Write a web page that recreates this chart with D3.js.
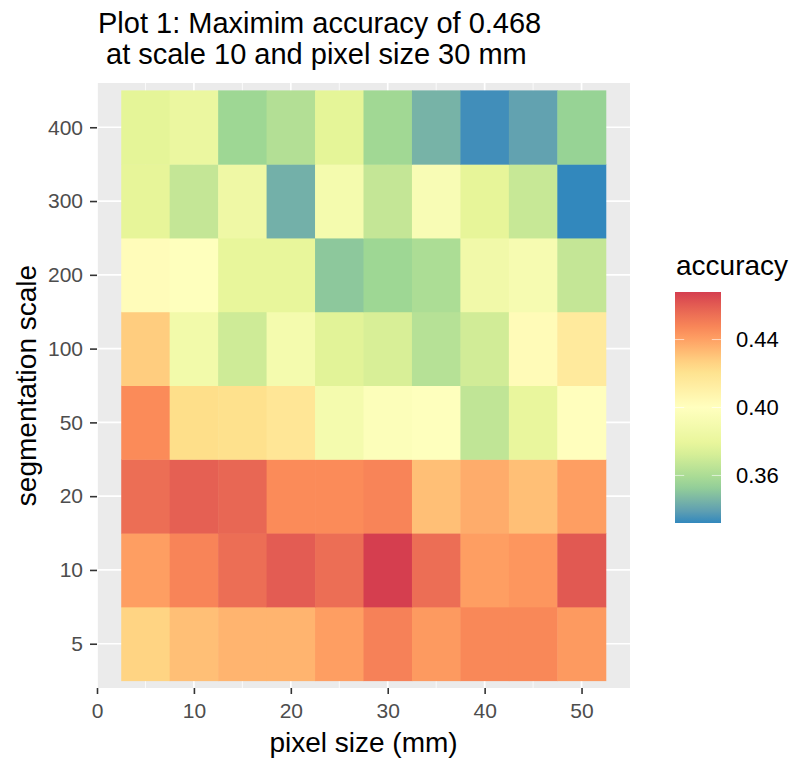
<!DOCTYPE html>
<html>
<head>
<meta charset="utf-8">
<script src="https://cdn.jsdelivr.net/npm/d3@7"></script>
<style>
  body { margin: 0; background: #fff; }
  text { font-family: "Liberation Sans", Arial, sans-serif; }
</style>
</head>
<body>
<div id="chart"></div>
<script>
// pixel size (mm) columns and segmentation scale rows
const pixelSizes = [5, 10, 15, 20, 25, 30, 35, 40, 45, 50];
const scales = ['5', '10', '20', '50', '100', '200', '300', '400'];

// accuracy per row (scale), values by pixel size
const acc5   = [0.426, 0.432, 0.435, 0.435, 0.441, 0.449, 0.442, 0.447, 0.447, 0.442];
const acc10  = [0.441, 0.448, 0.455, 0.460, 0.455, 0.468, 0.455, 0.441, 0.443, 0.461];
const acc20  = [0.455, 0.459, 0.457, 0.446, 0.446, 0.448, 0.432, 0.437, 0.432, 0.441];
const acc50  = [0.446, 0.423, 0.422, 0.418, 0.390, 0.397, 0.399, 0.366, 0.380, 0.401];
const acc100 = [0.428, 0.388, 0.370, 0.390, 0.376, 0.373, 0.363, 0.371, 0.403, 0.415];
const acc200 = [0.402, 0.399, 0.379, 0.379, 0.351, 0.356, 0.360, 0.387, 0.392, 0.367];
const acc300 = [0.378, 0.367, 0.385, 0.344, 0.390, 0.367, 0.394, 0.378, 0.368, 0.332];
const acc400 = [0.377, 0.382, 0.356, 0.362, 0.377, 0.357, 0.345, 0.334, 0.340, 0.354];

const xTicks = [0, 10, 20, 30, 40, 50];
const legendTicks = [0.36, 0.40, 0.44];

const rows = [acc5, acc10, acc20, acc50, acc100, acc200, acc300, acc400];
const cells = [];
rows.forEach((vals, i) => {
    vals.forEach((v, j) => cells.push({ scale: scales[i], px: pixelSizes[j], value: v }));
});

const width = 795, height = 764;
const margin = { top: 83, left: 97, right: 165, bottom: 76 };
const panelW = width - margin.left - margin.right;   // 533
const panelH = height - margin.top - margin.bottom;  // 605
const FONT = '"Liberation Sans", Arial, sans-serif';

const svg = d3.select('#chart').append('svg').attr('width', width).attr('height', height);

// Title
const title = svg.append('text').attr('font-size', 29).attr('fill', '#000');
title.append('tspan').attr('x', 98).attr('y', 33).text('Plot 1: Maximim accuracy of 0.468');
title.append('tspan').attr('x', 106).attr('y', 64).text('at scale 10 and pixel size 30 mm');

const chart = svg.append('g').attr('transform', `translate(${margin.left}, ${margin.top})`);

const x = d3.scaleLinear().domain([0, 55]).range([0, panelW]);

// discrete y with ggplot-style 0.6 expansion on each side
const unit = panelH / (scales.length + 0.2);
const y = d3.scalePoint().domain(scales).range([panelH - 0.6 * unit, 0.6 * unit]);

const extent = d3.extent(cells, (d) => d.value);
const spectral = ['#3288BD', '#99D594', '#E6F598', '#FFFFBF', '#FEE08B', '#FC8D59', '#D53E4F'];
const interp = d3.piecewise(d3.interpolateLab, spectral);
const color = d3.scaleSequential(interp).domain(extent);

// Panel background and grid
chart.append('rect').attr('width', panelW).attr('height', panelH).attr('fill', '#ebebeb');

const minor = [5, 15, 25, 35, 45];
chart.selectAll('.minor').data(minor).enter().append('line')
    .attr('x1', (d) => x(d)).attr('x2', (d) => x(d)).attr('y1', 0).attr('y2', panelH)
    .attr('stroke', '#fff').attr('stroke-width', 0.8);
chart.selectAll('.vmajor').data(xTicks).enter().append('line')
    .attr('x1', (d) => x(d)).attr('x2', (d) => x(d)).attr('y1', 0).attr('y2', panelH)
    .attr('stroke', '#fff').attr('stroke-width', 1.7);
chart.selectAll('.hmajor').data(scales).enter().append('line')
    .attr('x1', 0).attr('x2', panelW).attr('y1', (d) => y(d)).attr('y2', (d) => y(d))
    .attr('stroke', '#fff').attr('stroke-width', 1.7);

// Tiles
const tileW = x(5) - x(0);
chart.selectAll('.tile').data(cells).enter().append('rect')
    .attr('x', (d) => x(d.px - 2.5))
    .attr('y', (d) => y(d.scale) - unit / 2)
    .attr('width', tileW + 0.5)
    .attr('height', unit + 0.5)
    .attr('fill', (d) => color(d.value));

// Axes
const xAxis = chart.append('g').attr('transform', `translate(0, ${panelH})`)
    .call(d3.axisBottom(x).tickValues(xTicks).tickSize(6).tickPadding(9));
const yAxis = chart.append('g').call(d3.axisLeft(y).tickSize(7).tickPadding(7));
[xAxis, yAxis].forEach((g) => {
    g.select('.domain').remove();
    g.selectAll('.tick line').attr('stroke', '#333').attr('stroke-width', 1.6);
    g.selectAll('.tick text').attr('fill', '#4d4d4d').attr('font-size', 21)
        .attr('font-family', FONT);
});

svg.append('text').attr('x', margin.left + panelW / 2).attr('y', 752)
    .attr('text-anchor', 'middle').attr('font-size', 28).text('pixel size (mm)');
svg.append('text')
    .attr('transform', `translate(36, ${margin.top + panelH / 2}) rotate(-90)`)
    .attr('text-anchor', 'middle').attr('font-size', 28).text('segmentation scale');

// Legend colour bar
const lg = svg.append('g').attr('transform', 'translate(675, 292)');
const barW = 46, barH = 231;
lg.append('text').attr('x', 1).attr('y', -17).attr('font-size', 28).text('accuracy');

const defs = svg.append('defs');
const grad = defs.append('linearGradient').attr('id', 'grad')
    .attr('x1', 0).attr('x2', 0).attr('y1', 1).attr('y2', 0);
d3.range(0, 1.0001, 0.05).forEach((t) => {
    grad.append('stop').attr('offset', t).attr('stop-color', interp(t));
});
lg.append('rect').attr('width', barW).attr('height', barH).attr('fill', 'url(#grad)');

const ly = d3.scaleLinear().domain(extent).range([barH, 0]);
legendTicks.forEach((t) => {
    lg.append('line').attr('x1', 0).attr('x2', barW * 0.2).attr('y1', ly(t)).attr('y2', ly(t))
        .attr('stroke', '#fff').attr('stroke-opacity', 0.6);
    lg.append('line').attr('x1', barW * 0.8).attr('x2', barW).attr('y1', ly(t)).attr('y2', ly(t))
        .attr('stroke', '#fff').attr('stroke-opacity', 0.6);
});
lg.append('g').attr('transform', `translate(${barW}, 0)`)
    .call(d3.axisRight(ly).tickValues(legendTicks).tickFormat(d3.format('.2f')).tickSize(0).tickPadding(15))
    .call((g) => g.select('.domain').remove())
    .selectAll('text').attr('font-size', 22).attr('fill', '#000')
    .attr('font-family', FONT);
</script>
</body>
</html>
